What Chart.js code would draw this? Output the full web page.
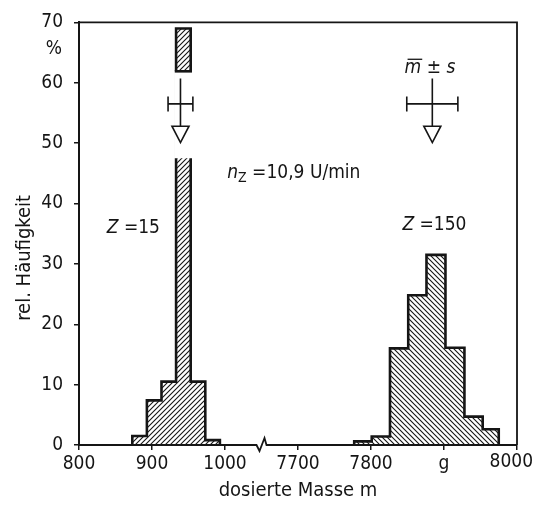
<!DOCTYPE html>
<html>
<head>
<meta charset="utf-8">
<script src="https://cdn.jsdelivr.net/npm/chart.js@4.4.1/dist/chart.umd.min.js"></script>
<style>html,body{margin:0;background:#fff}canvas{display:block}</style>
</head>
<body>
<canvas id="c" width="535" height="505"></canvas>
<script>
// ── Daten: rel. Häufigkeit der dosierten Masse ──
const edgesZ15  = [873, 893, 913, 933, 953, 973, 993];          // Klassengrenzen (g)
const relZ15    = [1.5, 7.4, 10.5, 69, 10.5, 0.8];               // %
const edgesZ150 = [7777, 7801, 7826, 7851, 7876, 7902, 7928, 7953, 7975];
const relZ150   = [0.6, 1.4, 16.0, 24.8, 31.5, 16.1, 4.7, 2.6];
const meanM = [939, 7884];      // m quer
const sdM   = [17, 35];         // s
const markY = 56.5;             // Höhe der m±s-Kreuze (%)
const xTicks = [800, 900, 1000, 7700, 7800, 7900, 8000];
const yTicks = [0, 10, 20, 30, 40, 50, 60, 70];

// Achsenbruch: 7650 g folgt direkt auf 1050 g
const SHIFT = 6600;
const toAxis = v => v > 1050 ? v - SHIFT : v;
const fromAxis = v => v > 1050 ? v + SHIFT : v;

const FONT = '"DejaVu Sans Condensed", "DejaVu Sans", sans-serif';
const INK = '#151515';

function hatch(dir) {
  const s = 5, c = document.createElement('canvas');
  c.width = c.height = s;
  const g = c.getContext('2d');
  g.strokeStyle = INK; g.lineWidth = 1.1;
  g.beginPath();
  if (dir > 0) {
    g.moveTo(0, s); g.lineTo(s, 0);
    g.moveTo(-s / 2, s / 2); g.lineTo(s / 2, -s / 2);
    g.moveTo(s / 2, 3 * s / 2); g.lineTo(3 * s / 2, s / 2);
  } else {
    g.moveTo(0, 0); g.lineTo(s, s);
    g.moveTo(-s / 2, s / 2); g.lineTo(s / 2, 3 * s / 2);
    g.moveTo(s / 2, -s / 2); g.lineTo(3 * s / 2, s / 2);
  }
  g.stroke();
  return g.createPattern(c, 'repeat');
}

function outline(edges, h) {
  const pts = [{ x: toAxis(edges[0]), y: 0 }];
  h.forEach((v, i) => {
    pts.push({ x: toAxis(edges[i]), y: v }, { x: toAxis(edges[i + 1]), y: v });
  });
  pts.push({ x: toAxis(edges[edges.length - 1]), y: 0 });
  return pts;
}

const histDs = (pts, pat) => ({
  data: pts, borderColor: INK, borderWidth: 2.6, backgroundColor: pat,
  fill: 'origin', pointRadius: 0, tension: 0, borderJoinStyle: 'miter'
});

// Text mit kursiven Teilen: parts = [[text, italic, dy, size]]
function rich(ctx, x, y, parts) {
  ctx.textBaseline = 'middle'; ctx.textAlign = 'left';
  parts.forEach(([t, it, dy, sz]) => {
    ctx.font = `${it ? 'italic ' : ''}${sz || 19}px ${FONT}`;
    ctx.fillText(t, x, y + (dy || 0));
    x += ctx.measureText(t).width;
  });
  return x;
}

const decor = {
  id: 'decor',
  afterDatasetsDraw(chart) {
    const { ctx, chartArea: a, scales: { x, y } } = chart;
    const px = v => x.getPixelForValue(toAxis(v));
    ctx.save();
    ctx.strokeStyle = INK; ctx.fillStyle = INK;

    // Unterbrechung der hohen Säule (Z=15)
    const bl = px(edgesZ15[3]), br = px(edgesZ15[4]);
    const gTop = y.getPixelForValue(61.9), gBot = y.getPixelForValue(47.5);
    ctx.fillStyle = '#fff';
    ctx.fillRect(bl - 2, gTop, br - bl + 4, gBot - gTop);
    ctx.fillStyle = INK;
    ctx.lineWidth = 2.6;
    ctx.beginPath(); ctx.moveTo(bl - 1.3, gTop); ctx.lineTo(br + 1.3, gTop); ctx.stroke();

    // Rahmen oben / rechts
    ctx.lineWidth = 1.8;
    ctx.beginPath();
    ctx.moveTo(a.left, a.top); ctx.lineTo(a.right, a.top); ctx.lineTo(a.right, a.bottom);
    ctx.stroke();

    // Grundlinie mit Achsenbruch
    const b = x.getPixelForValue(1050), y0 = a.bottom;
    ctx.beginPath();
    ctx.moveTo(a.left, y0); ctx.lineTo(b - 5, y0);
    ctx.lineTo(b - 2, y0 + 6); ctx.lineTo(b + 3, y0 - 7); ctx.lineTo(b + 5, y0);
    ctx.lineTo(a.right, y0);
    ctx.stroke();

    // m ± s Symbole
    ctx.lineWidth = 1.6;
    meanM.forEach((m, i) => {
      const cx = px(m), cy = y.getPixelForValue(markY);
      const xl = px(m - sdM[i]), xr = px(m + sdM[i]);
      const vTop = y.getPixelForValue(60.7), tTop = y.getPixelForValue(52.8), tBot = y.getPixelForValue(50.1);
      ctx.beginPath();
      ctx.moveTo(xl, cy); ctx.lineTo(xr, cy);
      ctx.moveTo(xl, cy - 7.5); ctx.lineTo(xl, cy + 7.5);
      ctx.moveTo(xr, cy - 7.5); ctx.lineTo(xr, cy + 7.5);
      ctx.moveTo(cx, vTop); ctx.lineTo(cx, tTop);
      ctx.moveTo(cx - 8.5, tTop); ctx.lineTo(cx + 8.5, tTop); ctx.lineTo(cx, tBot); ctx.closePath();
      ctx.stroke();
    });

    // Beschriftungen
    ctx.fillStyle = INK;
    ctx.font = `19px ${FONT}`;
    ctx.textAlign = 'right'; ctx.textBaseline = 'middle';
    ctx.fillText('%', a.left - 17, y.getPixelForValue(65.6));
    ctx.textBaseline = 'top';
    ctx.fillText('8000', 533, y0 + 8);

    // y-Achsentitel
    ctx.save();
    ctx.translate(25, y.getPixelForValue(31));
    ctx.rotate(-Math.PI / 2);
    ctx.textAlign = 'center'; ctx.textBaseline = 'middle';
    ctx.font = `20px ${FONT}`;
    ctx.fillText('rel. Häufigkeit', 0, 0);
    ctx.restore();

    rich(ctx, px(838), y.getPixelForValue(36), [['Z', true], [' =15']]);
    rich(ctx, px(7843), y.getPixelForValue(36.5), [['Z', true], [' =150']]);
    rich(ctx, px(1003), y.getPixelForValue(45), [['n', true], ['Z', false, 5, 14], [' =10,9 U/min']]);

    const mx = px(7846), my = y.getPixelForValue(62.4);
    rich(ctx, mx, my, [['m', true], [' ±'], [' s', true]]);
    ctx.font = `italic 19px ${FONT}`;
    const mw = ctx.measureText('m').width;
    ctx.lineWidth = 1.3;
    ctx.beginPath(); ctx.moveTo(mx + 3, my - 9); ctx.lineTo(mx + mw + 1, my - 9); ctx.stroke();
    ctx.restore();
  }
};

new Chart(document.getElementById('c'), {
  type: 'line',
  data: {
    datasets: [
      histDs(outline(edgesZ15, relZ15), hatch(1)),
      histDs(outline(edgesZ150, relZ150), hatch(-1))
    ]
  },
  options: {
    responsive: false, animation: false,
    layout: { padding: { top: 17, right: 18, left: 0, bottom: 0 } },
    plugins: { legend: { display: false }, tooltip: { enabled: false } },
    scales: {
      x: {
        type: 'linear', min: 800, max: 1400,
        afterBuildTicks: s => { s.ticks = xTicks.map(v => ({ value: toAxis(v) })); },
        afterFit: s => { s.height = 60; s.paddingLeft = 0; s.paddingRight = 0; },
        ticks: {
          color: INK, font: { family: FONT, size: 19 }, padding: 3, maxRotation: 0,
          callback: v => { const r = fromAxis(v); return r === 7900 ? 'g' : r === 8000 ? '' : String(r); }
        },
        grid: { drawOnChartArea: false, tickLength: 5, color: INK, lineWidth: 1.5 },
        border: { display: false },
        title: { display: true, text: 'dosierte Masse m', color: INK, font: { family: FONT, size: 20 }, padding: { top: 2, bottom: 2 } }
      },
      y: {
        min: 0, max: 70,
        afterBuildTicks: s => { s.ticks = yTicks.map(v => ({ value: v })); },
        afterFit: s => { s.width = 79; },
        ticks: { color: INK, font: { family: FONT, size: 19 }, padding: 11 },
        grid: { drawOnChartArea: false, tickLength: 5, color: INK, lineWidth: 1.5 },
        border: { color: INK, width: 2 },
        title: { display: false }
      }
    }
  },
  plugins: [decor]
});
</script>
</body>
</html>
